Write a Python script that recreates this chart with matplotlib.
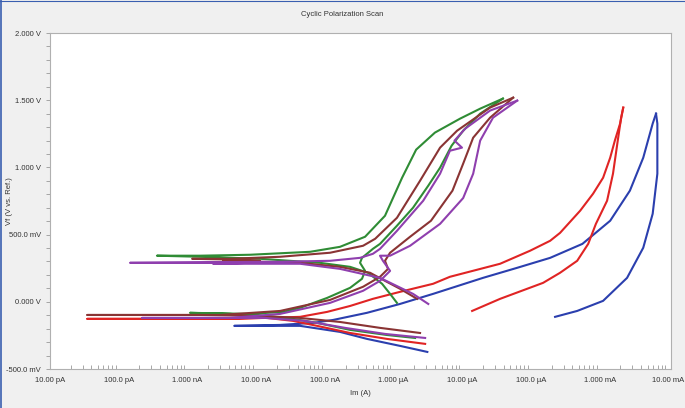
import matplotlib
matplotlib.use("Agg")
import matplotlib.pyplot as plt
from matplotlib.lines import Line2D
from matplotlib.ticker import FixedLocator, LogLocator, NullFormatter

plt.rcParams['font.family'] = ['Liberation Sans', 'DejaVu Sans']

# tick labels
xTicks = [1e-11, 1e-10, 1e-9, 1e-8, 1e-7, 1e-6, 1e-5, 1e-4, 1e-3, 1e-2]
xTickLabels = ["10.00 pA", "100.0 pA", "1.000 nA", "10.00 nA", "100.0 nA",
               "1.000 µA", "10.00 µA", "100.0 µA", "1.000 mA", "10.00 mA"]
yTicks = [-0.5, 0.0, 0.5, 1.0, 1.5, 2.0]
yTickLabels = ["-500.0 mV", "0.000 V", "500.0 mV", "1.000 V", "1.500 V", "2.000 V"]

# blue curve (current in A, potential in V)
blueFwdI = [3.1e-6, 1.24e-6, 4.1e-7, 1.66e-7, 4.36e-8, 4.8e-9, 2.23e-8, 6.7e-8, 1.32e-7, 4.1e-7,
            1.24e-6, 3.76e-6, 2.0e-5, 6.3e-5, 1.9e-4, 5.6e-4, 1.42e-3, 2.75e-3, 4.3e-3, 5.9e-3, 6.6e-3]
blueFwdV = [-0.373, -0.328, -0.276, -0.224, -0.179, -0.179, -0.172, -0.157, -0.135, -0.082,
            -0.016, 0.059, 0.178, 0.253, 0.327, 0.431, 0.603, 0.827, 1.072, 1.326, 1.400]
blueRevI = [6.6e-3, 6.9e-3, 6.9e-3, 5.9e-3, 4.3e-3, 2.5e-3, 1.12e-3, 4.7e-4, 2.24e-4]
blueRevV = [1.400, 1.326, 0.953, 0.655, 0.402, 0.178, 0.007, -0.068, -0.112]

# red curve
redFwdI = [2.88e-6, 8.0e-7, 2.33e-7, 7.7e-8, 3.44e-8, 1.44e-8, 1.52e-9, 3.5e-11, 4.17e-9, 4.36e-8,
           1.08e-7, 2.33e-7, 5.0e-7, 1.24e-6, 3.76e-6, 6.6e-6, 3.55e-5, 9.7e-5, 1.9e-4, 2.65e-4,
           5.2e-4, 8.0e-4, 1.12e-3, 1.42e-3, 1.66e-3, 1.98e-3, 2.2e-3]
redFwdV = [-0.313, -0.276, -0.232, -0.179, -0.142, -0.120, -0.127, -0.127, -0.127, -0.112,
           -0.075, -0.031, 0.022, 0.074, 0.134, 0.186, 0.283, 0.380, 0.454, 0.513,
           0.678, 0.804, 0.923, 1.072, 1.199, 1.326, 1.445]
redRevI = [2.2e-3, 2.05e-3, 1.83e-3, 1.56e-3, 1.28e-3, 8.8e-4, 6.8e-4, 4.7e-4, 2.65e-4, 1.5e-4,
           3.55e-5, 1.39e-5]
redRevV = [1.445, 1.370, 1.199, 0.953, 0.752, 0.580, 0.431, 0.305, 0.216, 0.141,
           0.022, -0.068]

# green curve
greenFwdI = [2.06e-6, 8.0e-7, 2.33e-7, 7.7e-8, 3.44e-8, 1.44e-8, 4.17e-9, 1.09e-9, 8.1e-9, 2.47e-8,
             4.36e-8, 1.08e-7, 2.33e-7, 3.47e-7, 3.85e-7, 3.25e-7, 3.47e-7, 5.0e-7, 6.35e-7, 1.12e-6,
             1.92e-6, 3.2e-6, 4.75e-6, 7.0e-6, 1.03e-5, 1.82e-5, 3.9e-5]
greenFwdV = [-0.269, -0.247, -0.209, -0.157, -0.127, -0.105, -0.090, -0.082, -0.090, -0.075,
             -0.045, 0.029, 0.104, 0.171, 0.230, 0.290, 0.327, 0.394, 0.431, 0.566,
             0.700, 0.864, 0.998, 1.162, 1.273, 1.400, 1.512]
greenRevI = [3.9e-5, 1.82e-5, 9.3e-6, 4.0e-6, 2.13e-6, 1.33e-6, 7.5e-7, 3.85e-7, 1.66e-7, 6.1e-8,
             8.1e-9, 1.52e-9, 3.6e-10, 1.52e-9, 1.14e-8, 8.5e-8, 2.33e-7, 4.25e-7, 6.8e-7, 8.9e-7,
             1.12e-6]
greenRevV = [1.512, 1.437, 1.363, 1.259, 1.132, 0.923, 0.640, 0.484, 0.409, 0.372,
             0.350, 0.343, 0.343, 0.335, 0.320, 0.290, 0.260, 0.216, 0.134, 0.059,
             -0.008]

# brown curve
brownFwdI = [2.43e-6, 6.35e-7, 1.66e-7, 4.36e-8, 1.14e-8, 1.52e-9, 3.5e-11, 3.0e-9, 2.23e-8, 1.19e-7,
             3.6e-7, 6.35e-7, 8.3e-7, 7.5e-7, 8.9e-7, 1.74e-6, 3.5e-6, 7.2e-6, 1.03e-5, 1.44e-5,
             2.54e-5, 5.5e-5]
brownFwdV = [-0.232, -0.194, -0.150, -0.120, -0.105, -0.098, -0.098, -0.098, -0.068, 0.014,
             0.112, 0.186, 0.245, 0.305, 0.365, 0.484, 0.603, 0.827, 1.028, 1.221,
             1.370, 1.519]
brownRevI = [5.5e-5, 2.54e-5, 8.4e-6, 4.75e-6, 2.43e-6, 1.12e-6, 5.4e-7, 3.6e-7, 1.19e-7, 2.23e-8,
             4.17e-9, 1.17e-9, 5.8e-9, 1.14e-8, 3.3e-9, 4.36e-8, 1.66e-7, 4.55e-7, 7.5e-7, 1.24e-6,
             2.2e-6]
brownRevV = [1.519, 1.445, 1.273, 1.147, 0.901, 0.625, 0.469, 0.417, 0.365, 0.335,
             0.320, 0.320, 0.313, 0.305, 0.305, 0.290, 0.260, 0.216, 0.156, 0.097,
             0.022]

# purple curve
purpleFwdI = [2.88e-6, 7.5e-7, 1.97e-7, 5.15e-8, 1.35e-8, 1.52e-9, 2.2e-10, 4.17e-9, 2.23e-8, 1.19e-7,
              3.6e-7, 6.35e-7, 8.9e-7, 7.0e-7, 6.35e-7, 8.9e-7, 1.74e-6, 4.75e-6, 1.03e-5, 1.44e-5,
              1.82e-5, 2.8e-5, 6.3e-5]
purpleFwdV = [-0.269, -0.239, -0.194, -0.142, -0.120, -0.120, -0.120, -0.120, -0.090, -0.008,
              0.082, 0.156, 0.230, 0.305, 0.343, 0.343, 0.417, 0.580, 0.772, 0.953,
              1.199, 1.370, 1.497]
purpleRevI = [6.3e-5, 2.54e-5, 1.1e-5, 7.7e-6, 9.9e-6, 6.6e-6, 4.75e-6, 2.7e-6, 1.12e-6, 6.35e-7,
              5.0e-7, 3.25e-7, 1.19e-7, 2.23e-8, 1.46e-10, 8.1e-9, 2.36e-9, 4.36e-8, 1.66e-7, 6.35e-7,
              1.92e-6, 3.2e-6]
purpleRevV = [1.497, 1.423, 1.288, 1.199, 1.147, 1.124, 0.953, 0.752, 0.528, 0.394,
              0.357, 0.327, 0.305, 0.298, 0.290, 0.290, 0.283, 0.283, 0.245, 0.178,
              0.059, -0.016]

curves = [
  (blueFwdI, blueFwdV, blueRevI, blueRevV, "#2b3fae"),
  (redFwdI, redFwdV, redRevI, redRevV, "#e02424"),
  (greenFwdI, greenFwdV, greenRevI, greenRevV, "#2f8c35"),
  (brownFwdI, brownFwdV, brownRevI, brownRevV, "#8a3434"),
  (purpleFwdI, purpleFwdV, purpleRevI, purpleRevV, "#8f3fae"),
]

fig = plt.figure(figsize=(6.85, 4.08), dpi=100)
fig.patch.set_facecolor("#f0f0f0")
ax = fig.add_axes([50/685, 39/408, 621/685, 336/408])
ax.set_facecolor("white")

for fwdI, fwdV, revI, revV, color in curves:
  ax.plot(fwdI, fwdV, color=color, linewidth=1.5, solid_joinstyle="round")
  ax.plot(revI, revV, color=color, linewidth=1.5, solid_joinstyle="round")

ax.set_xscale("log")
ax.set_xlim(1e-11, 1.09e-2)
ax.set_ylim(-0.5, 2.0)

ax.set_xticks(xTicks)
ax.set_xticklabels(xTickLabels)
ax.xaxis.set_minor_locator(LogLocator(base=10, subs=range(2, 10), numticks=20))
ax.xaxis.set_minor_formatter(NullFormatter())
ax.tick_params(axis="x", which="major", direction="in", length=0, labelsize=5.5, pad=6, colors="#333333")
ax.tick_params(axis="x", which="minor", direction="in", length=3, width=0.6, color="#999999")

ax.set_yticks(yTicks)
ax.set_yticklabels(yTickLabels)
ax.yaxis.set_minor_locator(FixedLocator([-0.4 + 0.1*i for i in range(24)]))
ax.tick_params(axis="y", which="major", direction="out", length=3, width=0.6, color="#999999", labelsize=5.5, colors="#333333")
ax.tick_params(axis="y", which="minor", direction="out", length=3, width=0.6, color="#999999")

for side in ax.spines.values():
  side.set_color("#b0b0b0")
  side.set_linewidth(0.8)

ax.set_xlabel("Im (A)", fontsize=5.5, color="#333333", labelpad=4)
fig.text(10/685, 1 - 201/408, "Vf (V vs. Ref.)", rotation=90, ha="center", va="center", fontsize=5.5, color="#333333")
fig.text(0.5, 1 - 15/408, "Cyclic Polarization Scan", ha="center", va="center", fontsize=5.5, color="#333333")

# window frame
fig.add_artist(Line2D([0.0015, 0.0015], [0, 1], transform=fig.transFigure, color="#3a5fb0", linewidth=1.2))
fig.add_artist(Line2D([0, 1], [0.998, 0.998], transform=fig.transFigure, color="#3a5fb0", linewidth=0.8))

fig.savefig("out.png", dpi=100, facecolor=fig.get_facecolor())
